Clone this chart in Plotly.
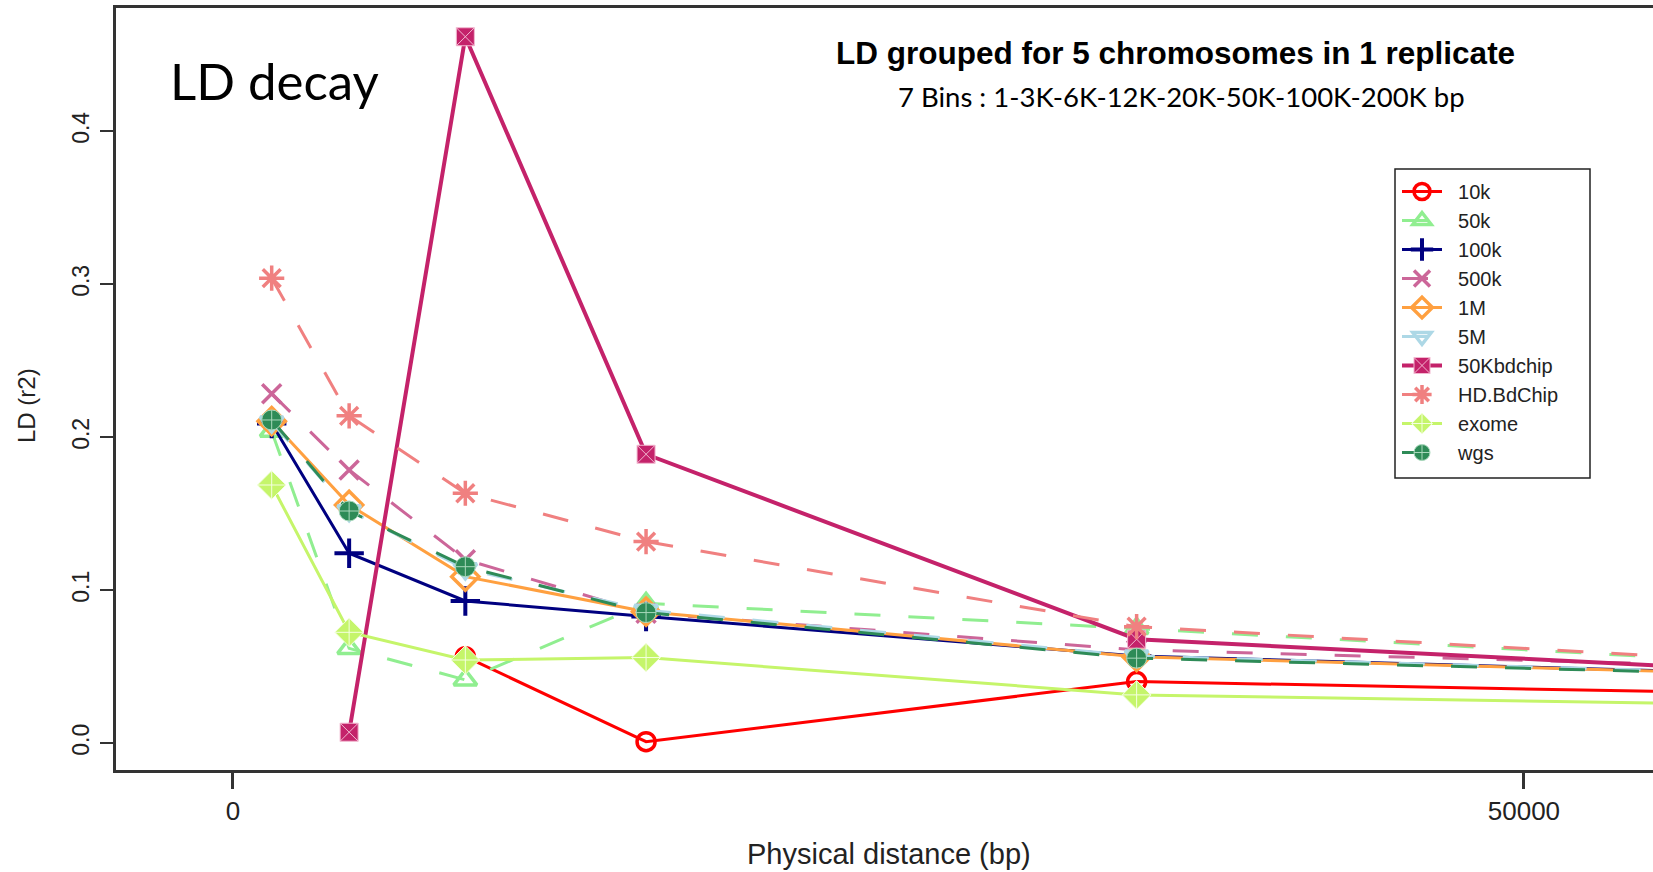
import plotly.graph_objects as go

# Bin midpoints (bp) for the distance classes 1-3K, 3-6K, 6-12K, 12-20K, 20-50K, 50-100K
distance_bp = [1500, 4500, 9000, 16000, 35000, 75000]

series_names = ["10k", "50k", "100k", "500k", "1M", "5M",
                "50Kbdchip", "HD.BdChip", "exome", "wgs"]

ld_10k       = [None, None, 0.0566, 0.0010, 0.0403, 0.0275]
ld_50k       = [0.2040, 0.0620, 0.0414, 0.0915, 0.0750, 0.0380]
ld_100k      = [0.2090, 0.1242, 0.0930, 0.0828, 0.0570, 0.0380]
ld_500k      = [0.2285, 0.1786, 0.1200, 0.0850, 0.0610, 0.0430]
ld_1M        = [0.2105, 0.1558, 0.1089, 0.0860, 0.0565, 0.0380]
ld_5M        = [0.2100, 0.1520, 0.1140, 0.0870, 0.0570, 0.0385]
ld_50Kbdchip = [None, 0.0072, 0.4618, 0.1889, 0.0680, 0.0340]
ld_HDBdChip  = [0.3040, 0.2140, 0.1634, 0.1318, 0.0762, 0.0384]
ld_exome     = [0.1688, 0.0725, 0.0544, 0.0560, 0.0316, 0.0210]
ld_wgs       = [0.2113, 0.1518, 0.1154, 0.0854, 0.0556, 0.0380]

series_values = [ld_10k, ld_50k, ld_100k, ld_500k, ld_1M, ld_5M,
                 ld_50Kbdchip, ld_HDBdChip, ld_exome, ld_wgs]

y_ticks = [0.0, 0.1, 0.2, 0.3, 0.4]
y_tick_text = ["0.0", "0.1", "0.2", "0.3", "0.4"]
x_ticks = [0, 50000]
x_tick_text = ["0", "50000"]

# Styling per series: colour, dash, marker symbol, fill colour, marker outline
DASH = "26px,28px"
styles = {
    "10k":       dict(color="#FF0000", dash="solid", symbol="circle-open", lw=3, mlw=3.5, size=18),
    "50k":       dict(color="#90EE90", dash=DASH, symbol="triangle-up-open", lw=3, mlw=3.5, size=20),
    "100k":      dict(color="#000080", dash="solid", symbol="cross-thin-open", lw=3, mlw=4, size=21),
    "500k":      dict(color="#CC6699", dash=DASH, symbol="x-thin-open", lw=3, mlw=3.5, size=19),
    "1M":        dict(color="#FFA040", dash="solid", symbol="diamond-open", lw=3, mlw=3.5, size=21),
    "5M":        dict(color="#ADD8E6", dash=DASH, symbol="triangle-down-open", lw=3, mlw=3.5, size=20),
    "50Kbdchip": dict(color="#C4226A", dash="solid", symbol="square-x", lw=4, mlw=1, size=18,
                      mline="#F2B8D0"),
    "HD.BdChip": dict(color="#F08080", dash=DASH, symbol="asterisk-open", lw=3, mlw=3.5, size=21),
    "exome":     dict(color="#C5F56A", dash="solid", symbol="diamond-cross", lw=3, mlw=1, size=22,
                      mline="#F4FFE0"),
    "wgs":       dict(color="#2E8B57", dash=DASH, symbol="circle-cross", lw=3, mlw=1, size=20,
                      mline="#A9D8BC"),
}

fig = go.Figure()
for name, vals in zip(series_names, series_values):
    s = styles[name]
    fig.add_trace(go.Scatter(
        x=distance_bp, y=vals, name="  " + name, mode="lines+markers",
        connectgaps=False,
        line=dict(color=s["color"], width=s["lw"], dash=s["dash"]),
        marker=dict(symbol=s["symbol"], size=s["size"], color=s["color"],
                    line=dict(color=s.get("mline", s["color"]), width=s["mlw"])),
        cliponaxis=True,
    ))

# Plot area in pixels (figure is 1653 x 872)
W, H = 1653, 872
L, R, T, B = 116, 1653, 8, 770


def px(x):
    return (x - L) / (R - L)


def py(y):
    return (B - y) / (B - T)


AX = "#333333"
fig.update_layout(
    width=W, height=H,
    margin=dict(l=L, r=W - R, t=T, b=H - B, pad=0),
    paper_bgcolor="white", plot_bgcolor="white",
    showlegend=True,
    font=dict(family="Liberation Sans, Arial, sans-serif", color="#222222"),
    legend=dict(
        x=px(1397), y=py(172), xanchor="left", yanchor="top",
        bgcolor="rgba(255,255,255,0)", borderwidth=0,
        font=dict(size=20, family="Liberation Sans, Arial, sans-serif", color="#222222"),
        itemwidth=40,
    ),
    xaxis=dict(
        range=[-4530, 55000], tickvals=x_ticks, ticktext=x_tick_text,
        showgrid=False, zeroline=False,
        showline=True, linecolor=AX, linewidth=2.5, mirror=True,
        ticks="outside", ticklen=16, tickwidth=2.5, tickcolor=AX,
        tickfont=dict(size=26, color="#222222"),
    ),
    yaxis=dict(
        range=[-0.0175, 0.4806], tickvals=y_ticks, ticktext=y_tick_text,
        showgrid=False, zeroline=False,
        showline=True, linecolor=AX, linewidth=2.5,
        ticks="outside", ticklen=13, tickwidth=2, tickcolor=AX,
        tickangle=-90, tickfont=dict(size=23, color="#222222"),
        ticklabelstandoff=2,
    ),
)

# Frame around the legend
fig.add_shape(type="rect", xref="paper", yref="paper",
              x0=px(1395), x1=px(1590), y0=py(478), y1=py(169),
              line=dict(color="#222222", width=1.5), fillcolor="white", layer="below")

fig.add_annotation(text="<b>LD grouped for 5 chromosomes in 1 replicate</b>",
                   xref="paper", yref="paper", x=px(1175), y=py(53),
                   xanchor="center", yanchor="middle", showarrow=False,
                   font=dict(size=31.5, family="Liberation Sans, Arial, sans-serif", color="#000000"))
fig.add_annotation(text="7 Bins : 1-3K-6K-12K-20K-50K-100K-200K bp",
                   xref="paper", yref="paper", x=px(1181), y=py(97),
                   xanchor="center", yanchor="middle", showarrow=False,
                   font=dict(size=27.5, family="Lato, sans-serif", color="#000000"))
fig.add_annotation(text="LD decay",
                   xref="paper", yref="paper", x=px(168), y=py(81),
                   xanchor="left", yanchor="middle", showarrow=False,
                   font=dict(size=51, family="Lato, sans-serif", color="#000000"))
fig.add_annotation(text="LD (r2)",
                   xref="paper", yref="paper", x=px(26), y=py(406),
                   xanchor="center", yanchor="middle", showarrow=False, textangle=-90,
                   font=dict(size=24, color="#222222"))
fig.add_annotation(text="Physical distance (bp)",
                   xref="paper", yref="paper", x=px(889), y=py(854),
                   xanchor="center", yanchor="middle", showarrow=False,
                   font=dict(size=29, color="#222222"))

fig.write_html("out.html")
